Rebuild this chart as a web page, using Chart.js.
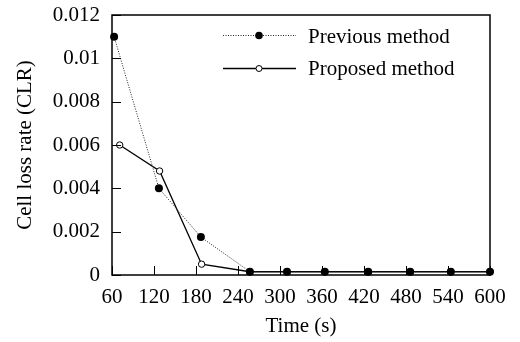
<!DOCTYPE html>
<html lang="en">
<head>
  <meta charset="UTF-8" />
  <title>Cell loss rate</title>
  <script src="https://cdn.jsdelivr.net/npm/chart.js"></script>
  <style>
    body { margin: 0; background: #fff; }
    #wrap { width: 520px; height: 342px; }
  </style>
</head>
<body>
<div id="wrap"><canvas id="clrChart" width="520" height="342"></canvas></div>
<script>
// values
const timePrev = [63, 127, 187, 257, 310, 364, 426, 486, 544, 600];
const clrPrev  = [0.011, 0.004, 0.00175, 0.00015, 0.00015, 0.00015, 0.00015, 0.00015, 0.00015, 0.00015];
const timeProp = [71, 128, 188, 257, 310, 364, 426, 486, 544, 600];
const clrProp  = [0.006, 0.0048, 0.0005, 0.00015, 0.00015, 0.00015, 0.00015, 0.00015, 0.00015, 0.00015];
const xTicks = [60, 120, 180, 240, 300, 360, 420, 480, 540, 600];
const yTicks = [0, 0.002, 0.004, 0.006, 0.008, 0.01, 0.012];
const yTickLabels = ['0', '0.002', '0.004', '0.006', '0.008', '0.01', '0.012'];
const seriesNames = ['Previous method', 'Proposed method'];

const serif = "'Liberation Serif', 'DejaVu Serif', serif";
const fontSize = 21;

function toPoints(xs, ys) {
  return xs.map((x, i) => ({ x: x, y: ys[i] }));
}

// frame + inward ticks
const framePlugin = {
  id: 'frame',
  afterDatasetsDraw(chart) {
    const { ctx, chartArea: a, scales } = chart;
    ctx.save();
    ctx.strokeStyle = '#000';
    ctx.lineWidth = 1;
    ctx.beginPath();
    xTicks.forEach(v => {
      const px = Math.round(scales.x.getPixelForValue(v)) + 0.5;
      ctx.moveTo(px, a.bottom);
      ctx.lineTo(px, a.bottom - 9);
    });
    yTicks.forEach(v => {
      const py = Math.round(scales.y.getPixelForValue(v)) + 0.5;
      ctx.moveTo(a.left, py);
      ctx.lineTo(a.left + 9, py);
    });
    ctx.stroke();
    ctx.lineWidth = 1.5;
    ctx.strokeRect(a.left, a.top, a.right - a.left, a.bottom - a.top);
    ctx.restore();
  }
};

// legend with line samples
const legendPlugin = {
  id: 'lineLegend',
  afterDraw(chart) {
    const { ctx } = chart;
    ctx.save();
    ctx.font = fontSize + 'px ' + serif;
    ctx.fillStyle = '#000';
    ctx.textBaseline = 'middle';
    // previous
    ctx.strokeStyle = '#222';
    ctx.lineWidth = 1;
    ctx.setLineDash([1, 1.5]);
    ctx.beginPath(); ctx.moveTo(223, 35.5); ctx.lineTo(296, 35.5); ctx.stroke();
    ctx.setLineDash([]);
    ctx.beginPath(); ctx.arc(259, 35.5, 3.8, 0, Math.PI * 2); ctx.fill();
    ctx.fillText(seriesNames[0], 308, 37);
    // proposed
    ctx.strokeStyle = '#000';
    ctx.lineWidth = 1.3;
    ctx.beginPath(); ctx.moveTo(223, 68.5); ctx.lineTo(296, 68.5); ctx.stroke();
    ctx.fillStyle = '#fff';
    ctx.lineWidth = 1;
    ctx.beginPath(); ctx.arc(259, 68.5, 3, 0, Math.PI * 2); ctx.fill(); ctx.stroke();
    ctx.fillStyle = '#000';
    ctx.fillText(seriesNames[1], 308, 69);
    ctx.restore();
  }
};

const ctx = document.getElementById('clrChart').getContext('2d');
new Chart(ctx, {
  type: 'scatter',
  data: {
    datasets: [
      {
        label: seriesNames[0],
        data: toPoints(timePrev, clrPrev),
        showLine: true,
        borderColor: '#222',
        borderWidth: 1,
        borderDash: [1, 1.5],
        pointRadius: 4,
        pointBackgroundColor: '#000',
        pointBorderColor: '#000',
        pointBorderWidth: 0,
        clip: false,
        order: 1
      },
      {
        label: seriesNames[1],
        data: toPoints(timeProp, clrProp),
        showLine: true,
        borderColor: '#000',
        borderWidth: 1.3,
        pointRadius: 3.2,
        pointBackgroundColor: '#fff',
        pointBorderColor: '#000',
        pointBorderWidth: 1,
        clip: false,
        order: 2
      }
    ]
  },
  options: {
    responsive: false,
    animation: false,
    layout: { padding: { top: 15, right: 30, left: 0, bottom: 0 } },
    plugins: {
      legend: { display: false },
      tooltip: { enabled: false }
    },
    scales: {
      x: {
        type: 'linear',
        min: 60,
        max: 600,
        afterBuildTicks: s => { s.ticks = xTicks.map(v => ({ value: v })); },
        afterFit: s => { s.height = 67; s.paddingLeft = 0; s.paddingRight = 0; },
        grid: { display: false, drawTicks: false },
        border: { display: false },
        ticks: {
          color: '#000',
          font: { family: serif, size: fontSize },
          padding: 10,
          maxRotation: 0,
          autoSkip: false,
          callback: v => String(v)
        },
        title: {
          display: true,
          text: 'Time (s)',
          color: '#000',
          font: { family: serif, size: fontSize },
          padding: { top: 4, bottom: 3 }
        }
      },
      y: {
        min: 0,
        max: 0.012,
        afterBuildTicks: s => { s.ticks = yTicks.map(v => ({ value: v })); },
        afterFit: s => { s.width = 112; s.paddingTop = 0; s.paddingBottom = 0; },
        grid: { display: false, drawTicks: false },
        border: { display: false },
        ticks: {
          color: '#000',
          font: { family: serif, size: fontSize },
          padding: 12,
          autoSkip: false,
          callback: (v, i) => yTickLabels[i]
        },
        title: {
          display: true,
          text: 'Cell loss rate (CLR)',
          color: '#000',
          font: { family: serif, size: fontSize },
          padding: { top: 13, bottom: 0 }
        }
      }
    }
  },
  plugins: [framePlugin, legendPlugin]
});
</script>
</body>
</html>
